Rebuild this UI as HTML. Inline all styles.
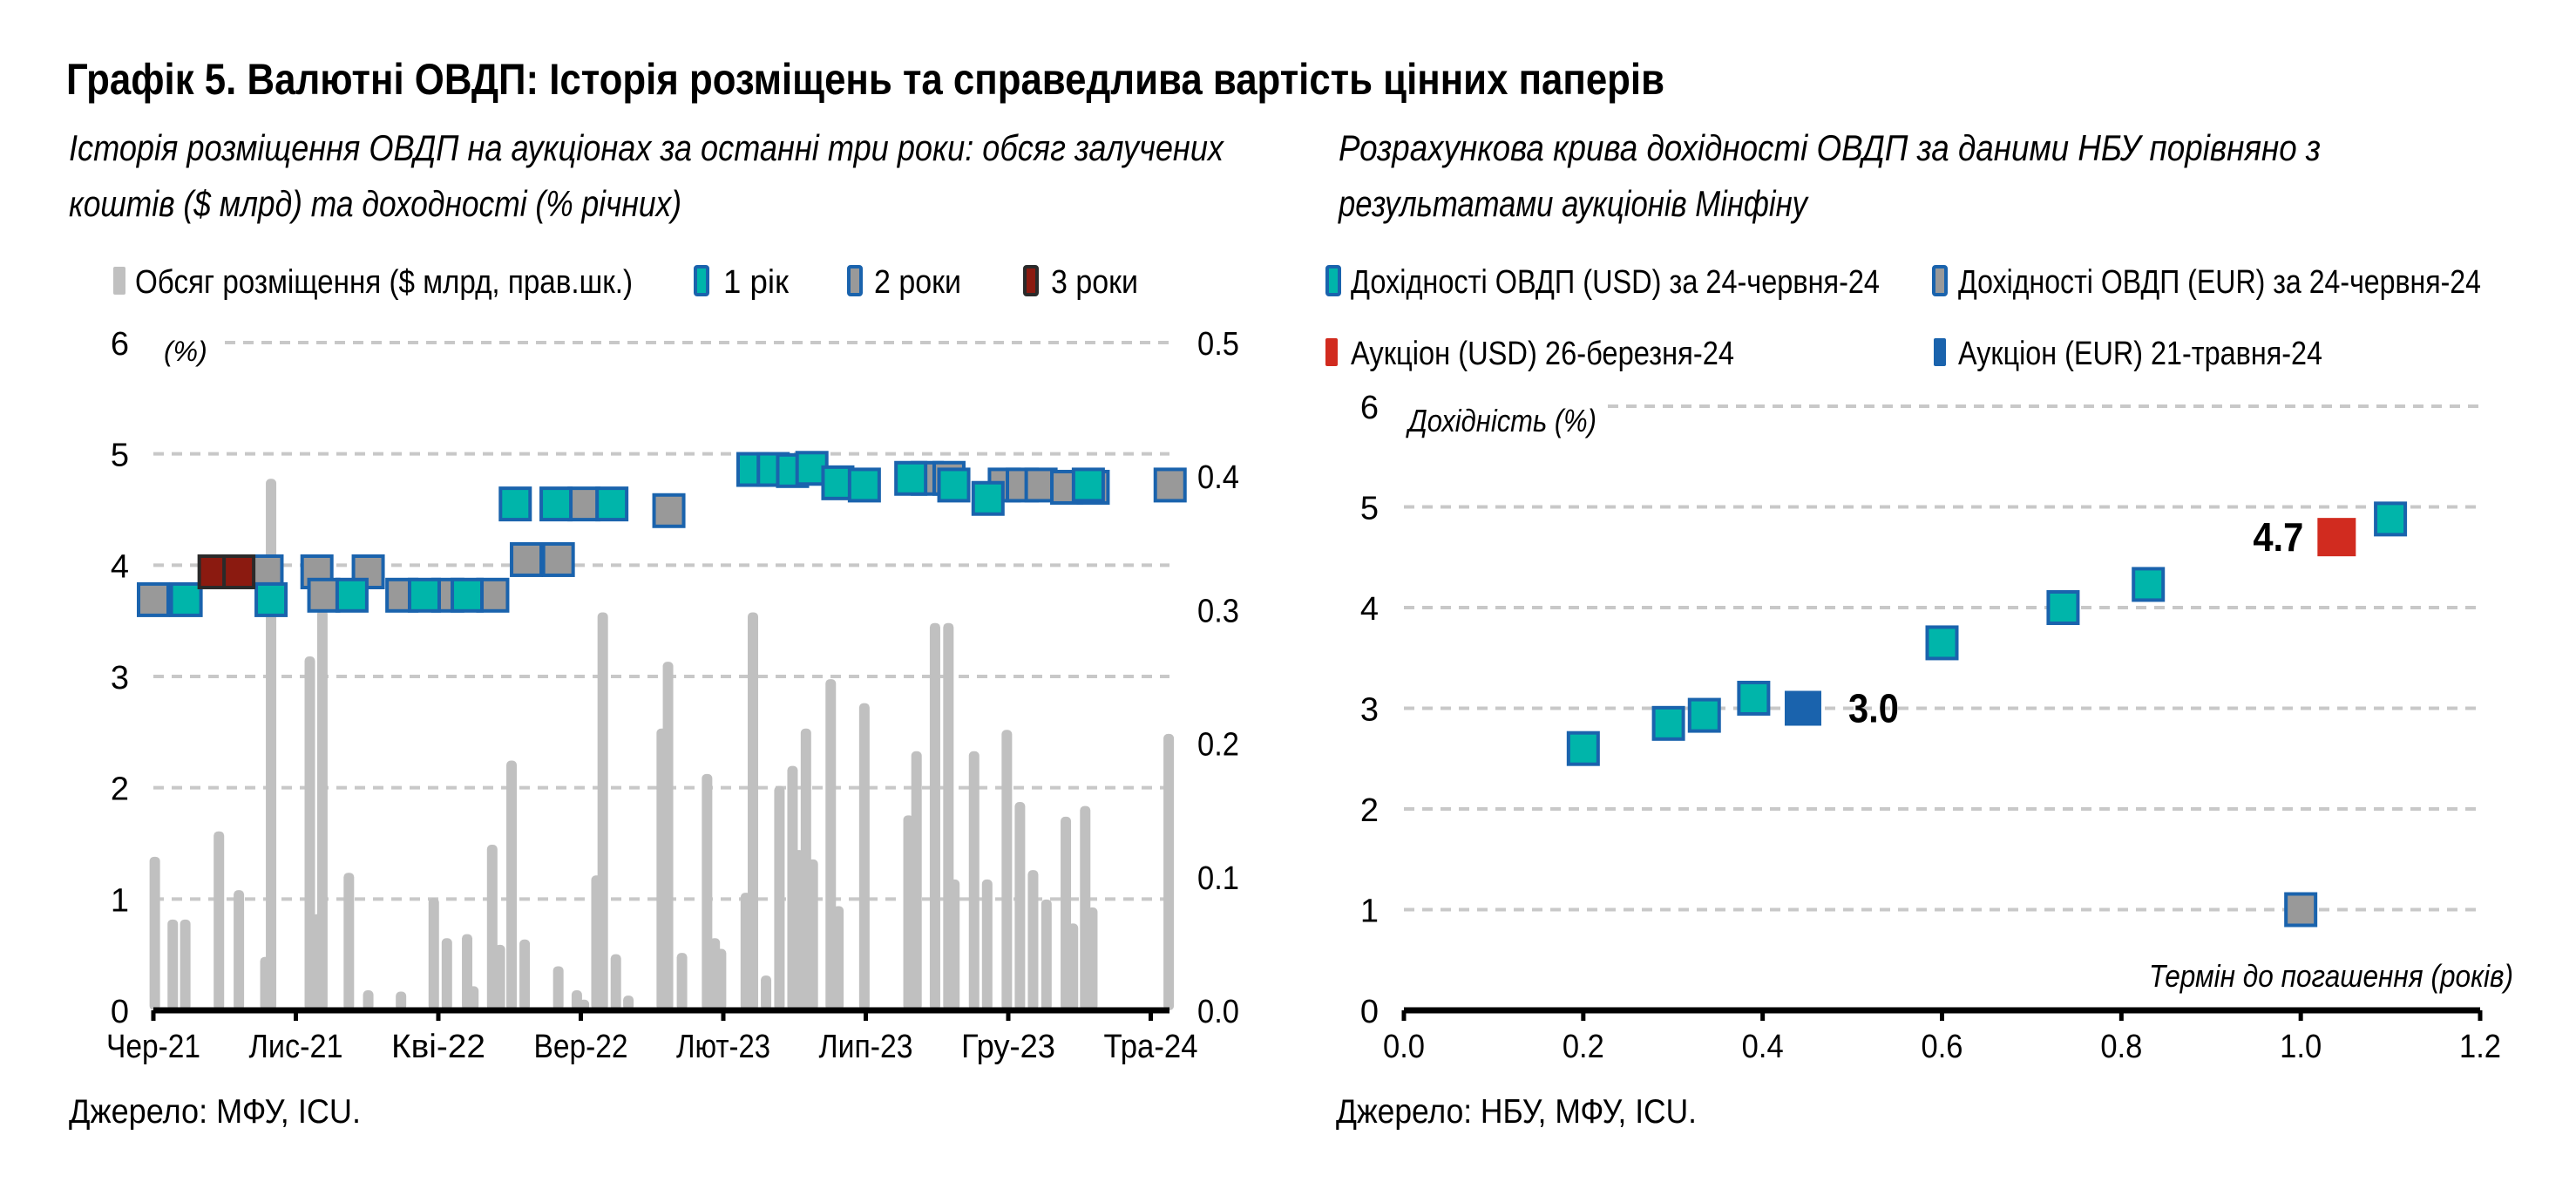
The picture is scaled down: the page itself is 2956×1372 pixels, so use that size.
<!DOCTYPE html>
<html><head><meta charset="utf-8"><style>
html,body{margin:0;padding:0;background:#fff}
svg{display:block}
text{font-family:"Liberation Sans Narrow","Liberation Sans",sans-serif;fill:#000}
</style></head><body>
<svg id="c" width="2956" height="1372" viewBox="0 0 2956 1372">
<text x="76" y="108" font-size="50" font-weight="bold" textLength="1834" lengthAdjust="spacingAndGlyphs">Графік 5. Валютні ОВДП: Історія розміщень та справедлива вартість цінних паперів</text>
<text x="79" y="184" font-size="42" font-style="italic" textLength="1325" lengthAdjust="spacingAndGlyphs">Історія розміщення ОВДП на аукціонах за останні три роки: обсяг залучених</text>
<text x="79" y="248" font-size="42" font-style="italic" textLength="703" lengthAdjust="spacingAndGlyphs">коштів ($ млрд) та доходності (% річних)</text>
<text x="1536" y="184" font-size="42" font-style="italic" textLength="1127" lengthAdjust="spacingAndGlyphs">Розрахункова крива дохідності ОВДП за даними НБУ порівняно з</text>
<text x="1536" y="248" font-size="42" font-style="italic" textLength="538" lengthAdjust="spacingAndGlyphs">результатами аукціонів Мінфіну</text>
<g id="left"></g>
<g id="right"></g>
<text x="79" y="1288" font-size="39" textLength="335" lengthAdjust="spacingAndGlyphs">Джерело: МФУ, ICU.</text>
<text x="1533" y="1288" font-size="39" textLength="414" lengthAdjust="spacingAndGlyphs">Джерело: НБУ, МФУ, ICU.</text>
</svg>
<script>
// ---- Left chart data (month index from Jun-21) ----
const xTickLabels = ["Чер-21","Лис-21","Кві-22","Вер-22","Лют-23","Лип-23","Гру-23","Тра-24"];
const yLeftTicks = [0,1,2,3,4,5,6];
const yRightTicks = ["0.0","0.1","0.2","0.3","0.4","0.5"];
const barMonths = [0.05,0.68,1.12,2.3,3.0,3.93,4.13,5.49,5.74,5.93,6.86,7.54,8.69,9.84,10.3,11.01,11.23,11.89,12.16,12.57,13.03,14.21,14.86,15.11,15.55,15.77,16.23,16.67,17.84,18.06,18.55,19.43,19.7,19.92,20.79,21.04,21.5,21.97,22.43,22.65,22.9,23.14,23.77,24.04,24.95,26.5,26.78,27.43,27.9,28.11,28.8,29.26,29.95,30.41,30.87,31.34,32.02,32.27,32.7,32.95,35.63];
const barValues = [0.115,0.068,0.068,0.134,0.090,0.040,0.398,0.265,0.072,0.300,0.103,0.015,0.014,0.084,0.054,0.057,0.018,0.124,0.049,0.187,0.053,0.033,0.015,0.008,0.101,0.298,0.042,0.011,0.211,0.261,0.043,0.177,0.054,0.046,0.088,0.298,0.026,0.168,0.183,0.12,0.211,0.113,0.248,0.078,0.230,0.146,0.194,0.290,0.290,0.098,0.194,0.098,0.210,0.156,0.105,0.083,0.145,0.065,0.153,0.077,0.207];
const y2Months = [0,3.99,5.74,5.98,7.54,8.72,10.33,11.91,13.09,14.21,15.11,18.09,27.16,27.92,29.86,30.49,31.15,32.05,32.98,35.68];
const y2Values = [3.69,3.94,3.94,3.73,3.94,3.73,3.73,3.73,4.05,4.05,4.55,4.49,4.78,4.78,4.72,4.72,4.72,4.70,4.70,4.72];
const y1Months = [1.15,4.13,6.97,9.51,11.01,12.7,14.13,16.09,21.04,21.75,22.43,23.11,24.02,24.95,26.58,28.09,29.29,32.81];
const y1Values = [3.69,3.69,3.73,3.73,3.73,4.55,4.55,4.55,4.86,4.86,4.85,4.87,4.74,4.72,4.78,4.72,4.6,4.72];
const y3Months = [2.13,3.0];
const y3Values = [3.94,3.94];
// ---- Right chart data ----
const xRightTicks = ["0.0","0.2","0.4","0.6","0.8","1.0","1.2"];
const usdTerm = [0.2,0.295,0.335,0.39,0.6,0.735,0.83,1.1];
const usdYield = [2.6,2.85,2.93,3.1,3.65,4.0,4.23,4.88];
const eurTerm = [1.0];
const eurYield = [1.0];
const aucUsdTerm = [1.04];
const aucUsdYield = [4.7];
const aucEurTerm = [0.445];
const aucEurYield = [3.0];

const NS="http://www.w3.org/2000/svg";
function mk(parent,tag,attrs,txt){const e=document.createElementNS(NS,tag);for(const k in attrs)e.setAttribute(k,attrs[k]);if(txt!==undefined)e.textContent=txt;parent.appendChild(e);return e;}

// Left axes
const L=document.getElementById('left');
const lx0=176, monthW=32.7, ly0=1159, ly6=393;
const lx=m=>lx0+m*monthW;
const ly=v=>ly0-(v/6)*(ly0-ly6);
const ly2=v=>ly0-(v/0.5)*(ly0-ly6);
yLeftTicks.forEach(t=>{
  if(t>0){const g=mk(L,'line',{x1:t===6?258:lx0,x2:1342,y1:ly(t),y2:ly(t),stroke:'#c8c8c8','stroke-width':4,'stroke-dasharray':'12 9'});
  }
  const e=mk(L,'text',{x:148,y:ly(t)+14,'font-size':38,'text-anchor':'end'},String(t));
  
});
yRightTicks.forEach((t,i)=>{
  const e=mk(L,'text',{x:1374,y:ly2(i*0.1)+14,'font-size':38,textLength:48,lengthAdjust:'spacingAndGlyphs'},t);
  
});
{const e=mk(L,'text',{x:188,y:414,'font-size':32,'font-style':'italic'},'(%)');}
barMonths.forEach((m,i)=>{
  const h=ly0-ly2(barValues[i]);
  const e=mk(L,'rect',{x:lx(m)-6,y:ly2(barValues[i]),width:12,height:h,rx:5,fill:'#c0c0c0'});
  
});
function marker(parent,x,y,fill,stroke,name){
  const e=mk(parent,'rect',{x:x-17,y:y-18,width:34,height:36,fill:fill,stroke:stroke,'stroke-width':4});
  
}
y2Months.forEach((m,i)=>marker(L,lx(m),ly(y2Values[i]),'#999999','#1a63ad','yield-2y-marker'));
y1Months.forEach((m,i)=>marker(L,lx(m),ly(y1Values[i]),'#00b5aa','#1a63ad','yield-1y-marker'));
y3Months.forEach((m,i)=>marker(L,lx(m),ly(y3Values[i]),'#8b1a10','#2a2a2a','yield-3y-marker'));
{const e=mk(L,'line',{x1:lx0,x2:1342,y1:ly0,y2:ly0,stroke:'#000','stroke-width':7});}
xTickLabels.forEach((t,i)=>{
  const x=lx(i*5);
  const k=mk(L,'line',{x1:x,x2:x,y1:ly0,y2:ly0+12,stroke:'#000','stroke-width':5});
  
  const e=mk(L,'text',{x:x,y:1213,'font-size':38,'text-anchor':'middle',textLength:108,lengthAdjust:'spacingAndGlyphs'},t);
  
});
// Left legend
function legSw(parent,x,y,fill,stroke,name){const e=mk(parent,'rect',{x:x,y:y-16,width:14,height:32,rx:2,fill:fill,stroke:stroke,'stroke-width':stroke?4:0});}
function legTx(parent,x,y,t,w,name){const e=mk(parent,'text',{x:x,y:y+14,'font-size':38,textLength:w,lengthAdjust:'spacingAndGlyphs'},t);}
legSw(L,130,322,'#c0c0c0',null,'legend-volume-swatch');legTx(L,155,322,'Обсяг розміщення ($ млрд, прав.шк.)',571,'legend-volume-label');
legSw(L,798,322,'#00b5aa','#1a63ad','legend-1y-swatch');legTx(L,830,322,'1 рік',75,'legend-1y-label');
legSw(L,974,322,'#999999','#1a63ad','legend-2y-swatch');legTx(L,1003,322,'2 роки',100,'legend-2y-label');
legSw(L,1176,322,'#8b1a10','#2a2a2a','legend-3y-swatch');legTx(L,1206,322,'3 роки',100,'legend-3y-label');

// Right chart
const R=document.getElementById('right');
const rx0=1611, rx1=2846, ry0=1159, ry6=466;
const rx=v=>rx0+(v/1.2)*(rx1-rx0);
const ry=v=>ry0-(v/6)*(ry0-ry6);
[0,1,2,3,4,5,6].forEach(t=>{
  if(t>0){const g=mk(R,'line',{x1:t===6?1845:rx0,x2:rx1,y1:ry(t),y2:ry(t),stroke:'#c8c8c8','stroke-width':4,'stroke-dasharray':'12 9'});
  }
  const e=mk(R,'text',{x:1582,y:ry(t)+14,'font-size':38,'text-anchor':'end'},String(t));
  
});
{const e=mk(R,'text',{x:1616,y:495,'font-size':36,'font-style':'italic',textLength:216,lengthAdjust:'spacingAndGlyphs'},'Дохідність (%)');}
{const e=mk(R,'text',{x:2466,y:1132,'font-size':36,'font-style':'italic',textLength:418,lengthAdjust:'spacingAndGlyphs'},'Термін до погашення (років)');}
usdTerm.forEach((v,i)=>marker(R,rx(v),ry(usdYield[i]),'#00b5aa','#1a63ad','usd-yield-marker'));
eurTerm.forEach((v,i)=>marker(R,rx(v),ry(eurYield[i]),'#999999','#1a63ad','eur-yield-marker'));
aucUsdTerm.forEach((v,i)=>{const e=mk(R,'rect',{x:rx(v)-22,y:ry(aucUsdYield[i])-22,width:44,height:44,fill:'#d12b1f'});
  const t=mk(R,'text',{x:rx(v)-38,y:ry(aucUsdYield[i])+16,'font-size':46,'font-weight':'bold','text-anchor':'end',textLength:58,lengthAdjust:'spacingAndGlyphs'},aucUsdYield[i].toFixed(1));});
aucEurTerm.forEach((v,i)=>{const e=mk(R,'rect',{x:rx(v)-21,y:ry(aucEurYield[i])-20,width:42,height:40,fill:'#1a63ad'});
  const t=mk(R,'text',{x:rx(v)+52,y:ry(aucEurYield[i])+16,'font-size':46,'font-weight':'bold',textLength:58,lengthAdjust:'spacingAndGlyphs'},aucEurYield[i].toFixed(1));});
{const e=mk(R,'line',{x1:rx0,x2:rx1,y1:ry0,y2:ry0,stroke:'#000','stroke-width':7});}
xRightTicks.forEach((t,i)=>{
  const x=rx(i*0.2);
  const k=mk(R,'line',{x1:x,x2:x,y1:ry0,y2:ry0+12,stroke:'#000','stroke-width':5});
  
  const e=mk(R,'text',{x:x,y:1213,'font-size':38,'text-anchor':'middle',textLength:48,lengthAdjust:'spacingAndGlyphs'},t);
  
});
legSw(R,1523,322,'#00b5aa','#1a63ad','legend-usd-yield-swatch');legTx(R,1550,322,'Дохідності ОВДП (USD) за 24-червня-24',607,'legend-usd-yield-label');
legSw(R,2219,322,'#999999','#1a63ad','legend-eur-yield-swatch');legTx(R,2247,322,'Дохідності ОВДП (EUR) за 24-червня-24',600,'legend-eur-yield-label');
legSw(R,1521,404,'#d12b1f',null,'legend-usd-auction-swatch');legTx(R,1550,404,'Аукціон (USD) 26-березня-24',440,'legend-usd-auction-label');
legSw(R,2219,404,'#1a63ad',null,'legend-eur-auction-swatch');legTx(R,2247,404,'Аукціон (EUR) 21-травня-24',418,'legend-eur-auction-label');
</script>
</body></html>
